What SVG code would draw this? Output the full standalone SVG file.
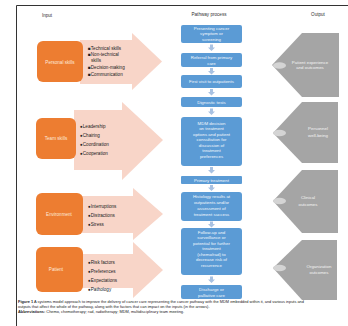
<svg xmlns="http://www.w3.org/2000/svg" width="348" height="326" viewBox="0 0 348 326">
<defs>
<style>
text{font-family:"Liberation Sans",Arial,sans-serif;}
.hdr{font-size:4.6px;fill:#333;text-anchor:middle;}
.ibox{fill:#ED7D31;}
.iarr{fill:#F8D5C8;}
.ilbl{font-size:4.6px;fill:#FDE9DC;text-anchor:middle;}
.bul{font-size:4.6px;fill:#222;}
.pbox{fill:#5B9BD5;}
.plbl{font-size:4.4px;fill:#F2F7FC;text-anchor:middle;}
.darr{fill:#A9C2E2;}
.obox{fill:#A5A5A5;}
.oell{fill:#D4D4D4;}
.olbl{font-size:4.4px;fill:#F4F4F4;text-anchor:middle;}
.cap{font-size:3.9px;fill:#222;}
</style>
</defs>
<rect width="348" height="326" fill="#fff"/>
<path d="M16.5 326V5.5H348" fill="none" stroke="#333" stroke-width="1"/>
<text class="hdr" x="47" y="17">Input</text>
<text class="hdr" x="209" y="16">Pathway process</text>
<text class="hdr" x="318" y="16">Output</text>

<g id="input-personal">
<path class="iarr" d="M80 40H132V33L162 61.5L132 90V84H80Z"/>
<rect class="ibox" x="37" y="41" width="46" height="41" rx="6"/>
<text class="ilbl" x="60" y="63.5">Personal skills</text>
<text class="bul" x="88" y="50">■Technical skills</text>
<text class="bul" x="88" y="56">■Non-technical</text>
<text class="bul" x="91" y="62">skills</text>
<text class="bul" x="88" y="69">■Decision-making</text>
<text class="bul" x="88" y="76">■Communication</text>
</g>
<g id="input-team">
<path class="iarr" d="M74 110H122V102L163 140L122 180V170H74Z"/>
<rect class="ibox" x="36" y="118" width="40" height="41" rx="6"/>
<text class="ilbl" x="56" y="140">Team skills</text>
<text class="bul" x="80" y="128">●Leadership</text>
<text class="bul" x="80" y="137">●Chairing</text>
<text class="bul" x="80" y="146">●Coordination</text>
<text class="bul" x="80" y="155">●Cooperation</text>
</g>
<g id="input-environment">
<path class="iarr" d="M80 196H133V188L163 214L133 240V233H80Z"/>
<rect class="ibox" x="36" y="193" width="47" height="42" rx="6"/>
<text class="ilbl" x="59" y="215.5">Environment</text>
<text class="bul" x="88" y="208">●Interruptions</text>
<text class="bul" x="88" y="217">●Distractions</text>
<text class="bul" x="88" y="226">●Stress</text>
</g>
<g id="input-patient">
<path class="iarr" d="M80 254H133V242L163 270L133 298V288H80Z"/>
<rect class="ibox" x="36" y="247" width="47" height="45" rx="6"/>
<text class="ilbl" x="56" y="271">Patient</text>
<text class="bul" x="88" y="264">●Risk factors</text>
<text class="bul" x="88" y="273">●Preferences</text>
<text class="bul" x="88" y="282">●Expectations</text>
<text class="bul" x="88" y="291">●Pathology</text>
</g>

<g id="connectors">
<path class="darr" d="M210 44.5h3v3h2l-3.5 3.5l-3.5-3.5h2z"/>
<path class="darr" d="M210 68h3v3h2l-3.5 3.5l-3.5-3.5h2z"/>
<path class="darr" d="M210 89h3v3h2l-3.5 3.5l-3.5-3.5h2z"/>
<path class="darr" d="M210 108.5h3v3h2l-3.5 3.5l-3.5-3.5h2z"/>
<path class="darr" d="M210 167h3v3h2l-3.5 3.5l-3.5-3.5h2z"/>
<path class="darr" d="M210 185h3v2.5h2l-3.5 3.5l-3.5-3.5h2z"/>
<path class="darr" d="M210 221.5h3v2.5h2l-3.5 3.5l-3.5-3.5h2z"/>
<path class="darr" d="M210 276.5h3v3h2l-3.5 3.5l-3.5-3.5h2z"/>
</g>

<g id="p1"><rect class="pbox" x="181" y="25" width="61" height="18" rx="2"/>
<text class="plbl" x="211.5" y="30">Presenting cancer</text><text class="plbl" x="211.5" y="35">symptom or</text><text class="plbl" x="211.5" y="40.5">screening</text></g>
<g id="p2"><rect class="pbox" x="181" y="53" width="61" height="14" rx="2"/>
<text class="plbl" x="211.5" y="59">Referral from primary</text><text class="plbl" x="211.5" y="64.5">care</text></g>
<g id="p3"><rect class="pbox" x="181" y="75" width="61" height="13" rx="2"/>
<text class="plbl" x="211.5" y="83">First visit to outpatients</text></g>
<g id="p4"><rect class="pbox" x="181" y="97" width="61" height="10" rx="2"/>
<text class="plbl" x="211.5" y="103.5">Dignostic tests</text></g>
<g id="p5"><rect class="pbox" x="181" y="117" width="61" height="49" rx="3"/>
<text class="plbl" x="211.5" y="124.5">MDM decision</text><text class="plbl" x="211.5" y="130">on treatment</text><text class="plbl" x="211.5" y="135.5">options and patient</text><text class="plbl" x="211.5" y="141">consultation for</text><text class="plbl" x="211.5" y="146.5">discussion of</text><text class="plbl" x="211.5" y="152">treatment</text><text class="plbl" x="211.5" y="157.5">preferences</text></g>
<g id="p6"><rect class="pbox" x="181" y="176" width="61" height="8" rx="1"/>
<text class="plbl" x="211.5" y="181.5">Primary treatment</text></g>
<g id="p7"><rect class="pbox" x="181" y="192" width="61" height="29" rx="3"/>
<text class="plbl" x="211.5" y="198">Histology results at</text><text class="plbl" x="211.5" y="203.5">outpatients and/or</text><text class="plbl" x="211.5" y="209.5">assessment of</text><text class="plbl" x="211.5" y="215.5">treatment success</text></g>
<g id="p8"><rect class="pbox" x="181" y="228" width="61" height="47" rx="3"/>
<text class="plbl" x="211.5" y="233.5">Follow-up and</text><text class="plbl" x="211.5" y="239">surveillance or</text><text class="plbl" x="211.5" y="244.5">potential for further</text><text class="plbl" x="211.5" y="250">treatment</text><text class="plbl" x="211.5" y="255.5">(chemo/rad) to</text><text class="plbl" x="211.5" y="261">decrease risk of</text><text class="plbl" x="211.5" y="266.5">recurrence</text></g>
<g id="p9"><rect class="pbox" x="181" y="285" width="61" height="14" rx="2"/>
<text class="plbl" x="211.5" y="291">Discharge or</text><text class="plbl" x="211.5" y="296.5">palliative care</text></g>

<g id="o1"><path class="obox" d="M302 33H339V97H302L272 65Z"/>
<ellipse class="oell" cx="279.5" cy="65.5" rx="6.5" ry="3.2"/>
<text class="olbl" x="310" y="63.5">Patient experience</text><text class="olbl" x="310" y="69">and outcomes</text></g>
<g id="o2"><path class="obox" d="M302 102H338V163H302L273 133Z"/>
<ellipse class="oell" cx="279.5" cy="133" rx="6.5" ry="3.2"/>
<text class="olbl" x="318" y="130">Personnel</text><text class="olbl" x="318" y="136.5">well-being</text></g>
<g id="o3"><path class="obox" d="M302 170H338V233H302L273 201Z"/>
<ellipse class="oell" cx="279.5" cy="201" rx="6.5" ry="3.2"/>
<text class="olbl" x="308" y="199">Clinical</text><text class="olbl" x="308" y="205.5">outcomes</text></g>
<g id="o4"><path class="obox" d="M302 240H337V300H302L273 268Z"/>
<ellipse class="oell" cx="279.5" cy="268" rx="6.5" ry="3.2"/>
<text class="olbl" x="319" y="267.5">Organization</text><text class="olbl" x="319" y="273.5">outcomes</text></g>

<text class="cap" x="18" y="303"><tspan font-weight="bold">Figure 1</tspan> A systems model approach to improve the delivery of cancer care representing the cancer pathway with the MDM embedded within it, and various inputs and</text>
<text class="cap" x="18" y="308">outputs that affect the whole of the pathway, along with the factors that can impact on the inputs (in the arrows).</text>
<text class="cap" x="18" y="313"><tspan font-weight="bold">Abbreviations:</tspan> Chemo, chemotherapy; rad, radiotherapy; MDM, multidisciplinary team meeting.</text>
</svg>
